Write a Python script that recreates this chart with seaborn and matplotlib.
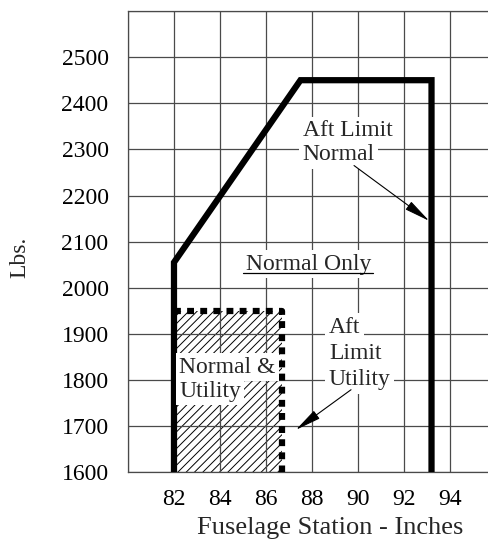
import matplotlib
matplotlib.use("Agg")
import matplotlib.pyplot as plt
import seaborn as sns
import numpy as np

# ---- data ----
normal_x = [82.0, 82.0, 87.5, 93.2, 93.2]
normal_y = [1600, 2055, 2450, 2450, 1600]
utility_x = [82.0, 86.7, 86.7]
utility_y = [1950, 1950, 1600]
hatch_x = [82.0, 86.7]
hatch_top = 1950
x_ticks = [80, 82, 84, 86, 88, 90, 92, 94]
x_tick_labels = ["", "82", "84", "86", "88", "90", "92", "94"]
y_ticks = [1600, 1700, 1800, 1900, 2000, 2100, 2200, 2300, 2400, 2500, 2600]
y_tick_labels = ["1600", "1700", "1800", "1900", "2000", "2100", "2200", "2300", "2400", "2500", ""]
x_label = "Fuselage Station - Inches"
y_label = "Lbs."

sns.set_style("white")
plt.rcParams["font.family"] = ["Liberation Serif", "DejaVu Serif"]
plt.rcParams["hatch.linewidth"] = 0.7

FS = 17
fig = plt.figure(figsize=(4.89, 5.53), dpi=100)
W, H = 489, 553
ax = fig.add_axes([128 / W, 1 - 472.3 / H, 1 - 128 / W, (472.3 - 11) / H])
ax.set_xlim(80, 95.7)
ax.set_ylim(1600, 2600)

gc = "#4a4a4a"
ax.set_xticks(x_ticks)
ax.set_xticklabels(x_tick_labels)
ax.set_yticks(y_ticks)
ax.set_yticklabels(y_tick_labels)
ax.tick_params(axis="both", length=0, labelsize=FS, colors="black")
ax.tick_params(axis="y", pad=14)
ax.tick_params(axis="x", pad=12)
ax.set_axisbelow(True)
ax.grid(True, color=gc, lw=0.9)
for s in ["left", "top", "bottom"]:
    ax.spines[s].set_color(gc)
    ax.spines[s].set_linewidth(0.9)
ax.spines["right"].set_visible(False)

# hatched Normal & Utility region
ax.fill_between(hatch_x, [1600, 1600], [hatch_top, hatch_top], facecolor="white",
                edgecolor="black", hatch="////", linewidth=0, zorder=0.2)

# envelopes
sns.lineplot(x=normal_x, y=normal_y, sort=False, estimator=None, ax=ax,
             color="black", lw=4.5, zorder=3)
ax.lines[-1].set_solid_joinstyle("miter")
ax.lines[-1].set_solid_capstyle("butt")
sns.lineplot(x=utility_x, y=utility_y, sort=False, estimator=None, ax=ax,
             color="black", lw=4.5, zorder=3)
ax.lines[-1].set_dashes((1.1, 1.0))
ax.lines[-1].set_dash_capstyle("butt")

box = dict(boxstyle="square,pad=0.15", facecolor="white", edgecolor="none")


def stacked(lines, x, y, pitch, ha="left"):
    for i, t in enumerate(lines):
        ax.annotate(t, xy=(x, y), xytext=(0, -i * pitch), textcoords="offset points",
                    ha=ha, va="baseline", fontsize=FS, bbox=box, zorder=4)


stacked(["Aft Limit", "Normal"], 87.6, 2328, 17.0)
stacked(["Normal &", "Utility"], 82.22, 1816, 17.3)
stacked(["Aft", "Limit", "Utility"], 88.74, 1903, 19.0)
only = ax.text(87.87, 2039, "Normal Only", ha="center", va="baseline", fontsize=FS,
               bbox=box, zorder=4)

arrow = dict(arrowstyle="-|>,head_length=0.8,head_width=0.15", color="black",
             lw=0.8, mutation_scale=20, shrinkA=0, shrinkB=0)
ax.annotate("", xy=(93.1, 2145), xytext=(89.83, 2265), arrowprops=arrow, zorder=5)
ax.annotate("", xy=(87.3, 1692), xytext=(89.7, 1779), arrowprops=arrow, zorder=5)

fig.text(20 / W, 1 - 257 / H, y_label, rotation=90, ha="center", va="center", fontsize=FS)
fig.text(330 / W, 1 - 528 / H, x_label, ha="center", va="center", fontsize=19)

# underline for "Normal Only"
fig.canvas.draw()
bb = only.get_window_extent()
inv = fig.transFigure.inverted()
(x0, y0), (x1, _) = inv.transform([(bb.x0 - 3, bb.y0 + 2), (bb.x1 + 1, bb.y0 + 2)])
fig.add_artist(plt.Line2D([x0, x1], [y0, y0], color="black", lw=0.9, zorder=6))

fig.savefig("out.png", dpi=100)
